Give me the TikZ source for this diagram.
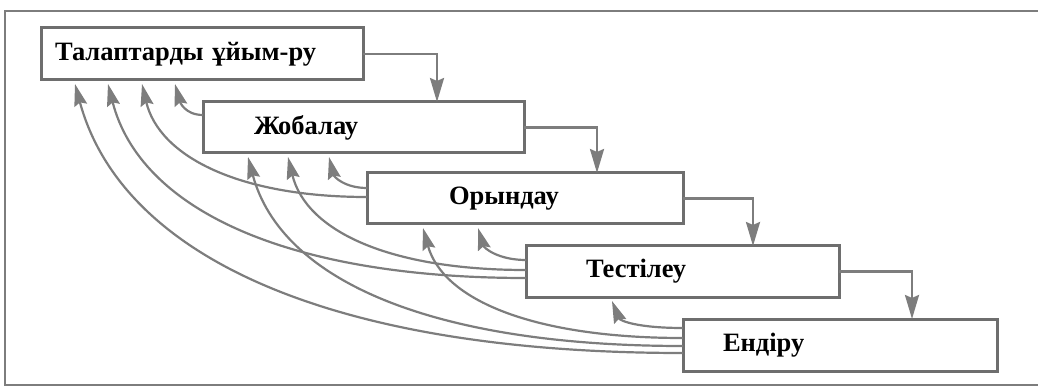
\documentclass[tikz,border=0pt]{standalone}
\usepackage{fontspec}
\setmainfont{Liberation Serif}
\usetikzlibrary{arrows.meta,calc}
\definecolor{ln}{RGB}{125,125,125}
\definecolor{bx}{RGB}{110,110,110}
\begin{document}
\begin{tikzpicture}[x=1pt,y=-1pt,
  box/.style={draw=bx, line width=3pt, anchor=north west, align=left,
    font=\bfseries\fontsize{26.5}{30}\selectfont, inner ysep=0pt, outer sep=0pt},
  frm/.style={draw=ln, line width=2.8pt},
  stp/.style={draw=ln, line width=2.6pt, -{Stealth[length=24pt,width=14pt,inset=3pt]}},
  fb/.style={draw=ln, line width=2.2pt, -{Stealth[length=22pt,width=13pt,inset=3pt]}}]
\useasboundingbox (0,0) rectangle (1038,387);
\draw[frm] (1045,11) -- (5,11) -- (5,385) -- (1045,385);

\node[box, text width=294pt, inner xsep=14pt, minimum height=52pt] (t1) at (41,28) {Талаптарды ұйым-ру};
\node[box, text width=219pt, inner xsep=51pt, minimum height=51pt] (t2) at (203,102) {Жобалау};
\node[box, text width=152pt, inner xsep=82pt, minimum height=51pt] (t3) at (367,173) {Орындау};
\node[box, text width=193pt, inner xsep=60pt, minimum height=51pt] (t4) at (526,246) {Тестілеу};
\node[box, text width=234pt, inner xsep=40pt, minimum height=52pt] (t5) at (683,319) {Ендіру};

% step arrows
\coordinate (k1) at ($(t1.east)+(74,0)$);
\coordinate (k2) at ($(t2.east)+(73,0)$);
\coordinate (k3) at ($(t3.east)+(70,0)$);
\coordinate (k4) at ($(t4.east)+(73,0)$);
\draw[stp] (t1.east) -| (k1 |- t2.north);
\draw[stp] (t2.east) -| (k2 |- t3.north);
\draw[stp] (t3.east) -| (k3 |- t4.north);
\draw[stp] (t4.east) -| (k4 |- t5.north);

% feedback arrows
\draw[fb] ($(t2.north west)+(0,13)$) .. controls +(-18,0) and +(5,18) .. ($(t1.south west)+(134,4)$);
\draw[fb] ($(t3.north west)+(0,15)$) .. controls +(-22,0) and +(5,20) .. ($(t2.south west)+(126,4)$);
\draw[fb] ($(t3.north west)+(0,24)$) .. controls +(-129,0) and +(17,72) .. ($(t1.south west)+(101,4)$);
\draw[fb] ($(t4.north west)+(0,14)$) .. controls +(-28,0) and +(6,20) .. ($(t3.south west)+(111,4)$);
\draw[fb] ($(t4.north west)+(0,24)$) .. controls +(-137,0) and +(18,74) .. ($(t2.south west)+(85,4)$);
\draw[fb] ($(t4.north west)+(0,32)$) .. controls +(-240,0) and +(32,125) .. ($(t1.south west)+(67,4)$);
\draw[fb] ($(t5.north west)+(0,9)$) .. controls +(-45,0) and +(8,20) .. ($(t4.south west)+(86,4)$);
\draw[fb] ($(t5.north west)+(0,19)$) .. controls +(-150,0) and +(20,72) .. ($(t3.south west)+(56,4)$);
\draw[fb] ($(t5.north west)+(0,27)$) .. controls +(-250,0) and +(33,124) .. ($(t2.south west)+(45,4)$);
\draw[fb] ($(t5.north west)+(0,34)$) .. controls +(-350,0) and +(47,174) .. ($(t1.south west)+(34,4)$);
\end{tikzpicture}
\end{document}
